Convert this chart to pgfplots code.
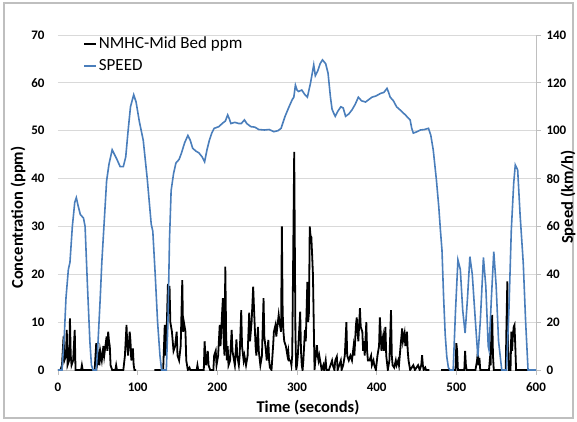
\documentclass[border=0pt]{standalone}
\usepackage{fontspec}
\setmainfont{Carlito}
\usepackage{pgfplots}
\pgfplotsset{compat=1.18}

\definecolor{speedblue}{HTML}{4A7EBB}
\definecolor{gridgray}{HTML}{D9D9D9}
\definecolor{axgray}{HTML}{BFBFBF}

\pgfplotsset{
  base/.style={
    scale only axis, width=478pt, height=335pt,
    at={(0pt,0pt)}, anchor=south west,
    xmin=0, xmax=600,
    tick label style={font=\fontsize{13}{15}\selectfont\bfseries},
    /pgf/number format/assume math mode=true,
    label style={font=\fontsize{16.5}{19}\selectfont\bfseries},
    tick align=outside, major tick length=5pt,
    unbounded coords=jump,
  },
}

\begin{document}
\begin{tikzpicture}
\useasboundingbox (-58pt,-51pt) rectangle (519pt,370pt);
\draw[axgray, line width=1.2pt] (-54pt,-48pt) rectangle (515pt,367pt);

% concentration, left axis
\begin{axis}[base,
  ymin=0, ymax=70, ytick={0,10,...,70},
  xtick={0,100,...,600},
  axis x line*=bottom, axis y line*=left,
  x axis line style={axgray, line width=0.8pt, -},
  y axis line style={draw=none},
  xtick style={axgray, line width=0.8pt},
  ytick style={draw=none},
  ymajorgrids, grid style={gridgray, line width=0.8pt},
  yticklabel style={xshift=-5pt},
  xticklabel style={yshift=-4pt},
  xlabel={Time (seconds)}, ylabel={Concentration (ppm)},
  xlabel style={at={(axis description cs:0.523,-0.113)}, anchor=center},
  ylabel style={at={(axis description cs:-0.0837,0.455)}, anchor=center},
]
\addplot[black, line width=1.8pt] coordinates {
(0,0)(3,0)(5,1)(7,7)(8,2)(10,3)(11,8.4)(12,1)(14,2)(15,10.8)(16,3)(17,1)(19,2)(21,8.4)(22,0)(24,0)(29,0)(30,1)(31,0)(46,0)
(48,5.6)(49,1)(51,3)(52,1)(53,4)(55,2)(57,5)(58,3)(61,7)(62,4)(63,8)(64,6)(65,5)(66,1)(68,0)(72,0)(73,1)(74,0)(82,0)
(84,3)(86,9.4)(87,5)(88,3)(90,8)(91,6)(92,2)(94,4.5)(95,1)(96,0)(98,0)(100,nan)
(121,0)(132,0)(134,9.4)(135,3)(136,6)(138,18)(139,12)(140,17.6)(141,10)(143,8)(145,4)(147,5)(149,8)(150,3)(152,2)(154,5)
(156,18.8)(157,8)(158,10)(160,8)(161,2)(163,0)(165,0.5)(166,0)(174,0)(175,1)(176,0)(183,0)(184,6)(185,3)(186,1)(188,4)
(189,1)(191,0)(195,0)(196,3)(198,4)(199,1)(201,3)(203,9.4)(204,5)(206,12)(207,15)(208,6)(209,3)(210,21.6)(211,8)(212,2)
(213,5)(214,1)(216,2)(218,8.4)(219,4)(221,2)(222,1)(224,6.4)(225,3)(227,1)(228,3)(230,12.5)(231,5)(233,2)(234,3)(236,1)
(238,3)(240,12)(241,6)(243,10)(245,17.4)(246,13)(248,5)(249,3)(251,9)(252,4)(254,1)(256,3)(258,15)(259,7)(261,4)(262,2)
(264,6.3)(265,2)(266,0.5)(268,0)(270,5)(271,8)(273,9.4)(274,7)(276,10)(277,11.5)(278,10)(280,8)(281,30)(282,12)(283,8)
(284,6)(286,5)(288,3)(289,4)(290,2)(292,2)(293,1)(294,3)(296.5,45.6)(298,8)(299,0)(300,1)(301,3)(302,6)(304,12.2)(305,4)
(306,1)(307,0)(308,2)(310,8.4)(311,6)(313,18.4)(314,10)(315,12)(316,30)(317,28)(318,27.8)(319,24)(320,20)(322,0)(323,2)
(325,5.2)(326,3)(327,2)(328,3)(330,1)(331,0)(333,1)(334,0)(336,2)(337,0)(340,0)(342,1)(344,2)(345,1)(347,0)(348,2)
(350,2.8)(351,0)(353,1)(355,2)(356,0)(358,1)(360,3)(362,10)(363,3)(365,2)(367,3)(369,2)(371,4.9)(372,3)(374,9.4)(375,11)
(376,8)(377,6)(379,12.9)(380,9)(382,8)(383,4)(384,6)(385,3)(387,10)(388,4)(389,2)(391,2)(393,3)(394,1)(396,2)(397,1)
(399,0)(401,3)(402,4)(403,5)(404,11)(405,8)(406,4)(407,6)(408,7)(409,4)(411,9)(412,3)(414,0)(416,2)(418,12.5)(419,3)
(420,1)(422,0.5)(424,2)(425,1)(427,2)(428,1)(430,5)(432,8.7)(433,6)(435,7.7)(436,5)(438,8)(439,4)(440,2)(442,0)(444,0.5)
(446,1)(448,0)(450,0.5)(452,1)(454,0)(456,1)(457,3.1)(458,1)(459,0)(461,0.5)(462,0)(466,0)(468,nan)
(481,0)(499,0)(500,5.6)(501,4)(502,0)(510,0)(511,4)(512,1)(513,0)(524,0)(526,2)(527,3.8)(528,1)(529,2.5)(530,0)(541,0)
(542,2)(543,1)(544,8)(545,11.5)(546,3)(547,0)(562,0)(563,10)(564,18.5)(565,5)(566,0)(568,0)(569,8)(570,4)(571,7)(572,9)
(573,9.4)(574,5)(575,0)(600,0)
};
\end{axis}

% speed, right axis
\begin{axis}[base,
  ymin=0, ymax=140, ytick={0,20,...,140},
  axis y line*=right, axis x line=none,
  y axis line style={axgray, line width=0.8pt, -},
  ytick style={axgray, line width=0.8pt},
  yticklabel style={xshift=2pt},
  ylabel={Speed (km/h)},
  ylabel style={at={(axis description cs:1.067,0.516)}, anchor=center, rotate=0},
  legend style={at={(axis description cs:0.05,1.003)}, anchor=north west,
    draw=none, fill=none, font=\fontsize{17}{20}\selectfont,
    row sep=5pt, inner sep=1pt},
  legend cell align=left,
  legend image code/.code={\draw[#1] (0pt,0pt) -- (12pt,0pt);},
]
\addlegendimage{black, line width=1.8pt}
\addlegendentry{NMHC-Mid Bed ppm}
\addplot[speedblue, line width=1.6pt] coordinates {
(0,0)(5,0)(8,15)(10,30)(13,42)(15,45)(18,60)(21,70)(23,72)(25,69)(28,65)(32,63.5)(34,60)(37,35)(40,12)(42,2)(44,0)(48,0)
(50,10)(53,30)(55,45)(58,62)(61,79)(64,86)(68,92)(71,90)(74,88)(78,85)(82,85)(85,89)(88,100)(91,110)(95,115)(98,112)
(102,104)(107,96)(112,80)(117,61)(119,58)(122,40)(125,20)(128,6)(130,0)(136,0)(138,20)(140,55)(142,75)(145,82)(148,86.5)
(152,88)(155,90.7)(159,95)(163,98)(166,96)(169,92.7)(173,91.5)(177,90.7)(181,89)(184,87)(187,92)(190,96)(193,99)(196,101)
(202,101.7)(206,103)(210,104)(213,106.6)(215,105)(217,103)(222,103.5)(227,103)(230,103)(234,104.5)(237,103)(242,101.7)
(247,101.5)(252,100.5)(259,100.3)(265,100.5)(271,99.6)(276,100)(280,101)(285,106)(290,110)(294,113)(296,114)(298,119)
(300,117)(302,116.4)(306,117)(310,115)(313,114)(317,120)(321,127.5)(323,123)(326,125)(329,128)(332,129.6)(336,128)
(339,124)(342,114)(344,109)(346,107.4)(348,106)(351,108)(355,110)(358,109.5)(361,106)(365,107)(369,108.7)(373,111)
(377,114)(381,112.5)(386,112)(390,113)(394,114)(399,114.5)(405,115.6)(409,116)(413,117.7)(415,116)(417,114)(421,112.5)
(425,110)(430,108.5)(436,106.6)(442,104.5)(444,101)(446,99)(450,99.5)(455,100.3)(460,100.5)(465,101)(468,98)(471,92)
(475,79.4)(478,68)(480,58.5)(482,50)(484,30.6)(486,15)(488,5.6)(490,1)(492,0)(496,0)(499,25)(502,46)(505,42)(508,25)
(511,15.4)(514,30)(517,47.4)(520,40)(524,20)(527,5.6)(530,20)(534,47)(537,35)(540,10)(541,8.4)(544,30)(547,49.5)(550,35)
(553,12)(557,0)(563,0)(566,25)(569,58.5)(572,78)(574,85.7)(577,83.6)(580,65)(584,44.7)(587,20)(590,0)(600,0)
};
\addlegendentry{SPEED}
\end{axis}
\end{tikzpicture}
\end{document}
